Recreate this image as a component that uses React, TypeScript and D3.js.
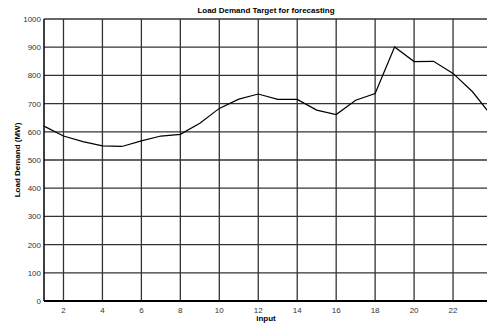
import { useEffect, useRef } from "react";
import * as d3 from "d3";

const hours = [1, 2, 3, 4, 5, 6, 7, 8, 9, 10, 11, 12, 13, 14, 15, 16, 17, 18, 19, 20, 21, 22, 23, 24];
const demand = [620, 585, 565, 550, 548, 568, 585, 591, 630, 683, 716, 734, 715, 715, 677, 661, 712, 736, 901, 849, 850, 807, 742, 655];
const xTicks = [2, 4, 6, 8, 10, 12, 14, 16, 18, 20, 22];
const yTicks = [0, 100, 200, 300, 400, 500, 600, 700, 800, 900, 1000];

export default function App() {
  const ref = useRef<SVGSVGElement>(null);

  useEffect(() => {
    const svg = d3.select(ref.current);
    svg.selectAll("*").remove();

    const left = 44, right = 492, top = 19, bottom = 301;
    const x = d3.scaleLinear().domain([1, 24]).range([left, right]);
    const y = d3.scaleLinear().domain([0, 1000]).range([bottom, top]);
    const font = "Arial, 'Liberation Sans', sans-serif";

    svg.append("rect").attr("width", 487).attr("height", 323).attr("fill", "#fff");

    // grid
    svg.append("g")
      .selectAll("line")
      .data(yTicks)
      .enter()
      .append("line")
      .attr("x1", left)
      .attr("x2", right)
      .attr("y1", (d) => y(d))
      .attr("y2", (d) => y(d))
      .attr("stroke", "#333")
      .attr("stroke-width", 1.3);

    svg.append("g")
      .selectAll("line")
      .data(xTicks)
      .enter()
      .append("line")
      .attr("x1", (d) => x(d))
      .attr("x2", (d) => x(d))
      .attr("y1", top)
      .attr("y2", bottom)
      .attr("stroke", "#333")
      .attr("stroke-width", 1.3);

    // axes
    svg.append("line")
      .attr("x1", left).attr("x2", right)
      .attr("y1", bottom).attr("y2", bottom)
      .attr("stroke", "#000").attr("stroke-width", 2);
    svg.append("line")
      .attr("x1", left).attr("x2", left)
      .attr("y1", top).attr("y2", bottom)
      .attr("stroke", "#000").attr("stroke-width", 1.5);

    // tick labels
    svg.append("g")
      .selectAll("text")
      .data(yTicks)
      .enter()
      .append("text")
      .attr("x", left - 3)
      .attr("y", (d) => y(d) + 3)
      .attr("text-anchor", "end")
      .attr("font-family", font)
      .attr("font-size", 8)
      .attr("fill", "#333")
      .text((d) => d);

    svg.append("g")
      .selectAll("text")
      .data(xTicks)
      .enter()
      .append("text")
      .attr("x", (d) => x(d))
      .attr("y", bottom + 12)
      .attr("text-anchor", "middle")
      .attr("font-family", font)
      .attr("font-size", 8)
      .attr("fill", "#333")
      .text((d) => d);

    // line
    const line = d3.line<number>()
      .x((_, i) => x(hours[i]))
      .y((d) => y(d));
    svg.append("path")
      .datum(demand)
      .attr("d", line)
      .attr("fill", "none")
      .attr("stroke", "#000")
      .attr("stroke-width", 1.2);

    // labels
    svg.append("text")
      .attr("x", 266)
      .attr("y", 13)
      .attr("text-anchor", "middle")
      .attr("font-family", font)
      .attr("font-size", 8)
      .attr("font-weight", "bold")
      .text("Load Demand Target for forecasting");

    svg.append("text")
      .attr("x", 266)
      .attr("y", 321)
      .attr("text-anchor", "middle")
      .attr("font-family", font)
      .attr("font-size", 8)
      .attr("font-weight", "bold")
      .text("input");

    svg.append("text")
      .attr("transform", `translate(20,${(top + bottom) / 2}) rotate(-90)`)
      .attr("text-anchor", "middle")
      .attr("font-family", font)
      .attr("font-size", 8)
      .attr("font-weight", "bold")
      .text("Load Demand (MW)");
  }, []);

  return (
    <svg
      ref={ref}
      width={487}
      height={323}
      style={{ position: "absolute", left: 0, top: 0, display: "block" }}
    />
  );
}
